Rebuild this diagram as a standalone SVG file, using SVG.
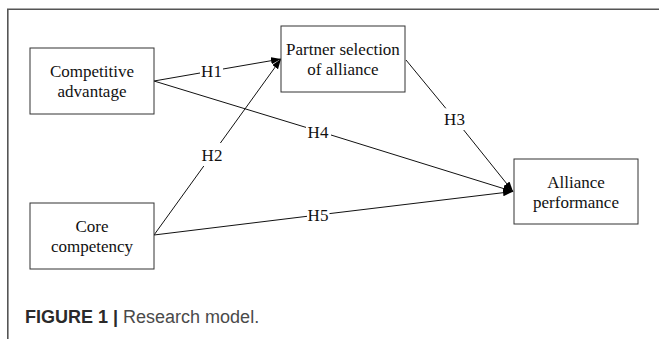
<svg xmlns="http://www.w3.org/2000/svg" width="659" height="339" viewBox="0 0 659 339">
  <defs>
    <marker id="arrow" markerUnits="userSpaceOnUse" markerWidth="11" markerHeight="8" refX="10" refY="3.5" orient="auto">
      <path d="M0,0 L10,3.5 L0,7 z" fill="#000"/>
    </marker>
    <style>
      .box { fill: #fff; stroke: #333; stroke-width: 1; }
      .lbl { font-family: "Liberation Serif", "Times New Roman", serif; font-size: 17px; fill: #111; text-anchor: middle; }
      .conn line { stroke: #111; stroke-width: 1; fill: none; }
      .frame { stroke: #555; stroke-width: 1.6; fill: none; }
      .cap { font-family: "Liberation Sans", Arial, sans-serif; font-size: 18px; }
    </style>
  </defs>
  <rect width="659" height="339" fill="#fff"/>
  <path class="frame" d="M7.8,339 V9.3 H659"/>

  <g id="connectors" class="conn">
    <!-- H1 -->
    <line x1="154" y1="81" x2="200" y2="73"/>
    <line x1="223" y1="69" x2="281" y2="59" marker-end="url(#arrow)"/>
    <!-- H2 -->
    <line x1="154" y1="235" x2="203.8" y2="166"/>
    <line x1="220.4" y1="143" x2="281" y2="59" marker-end="url(#arrow)"/>
    <!-- H3 -->
    <line x1="406" y1="60" x2="445.8" y2="108.3"/>
    <line x1="463.7" y1="130" x2="513" y2="191.5" marker-end="url(#arrow)"/>
    <!-- H4 -->
    <line x1="154" y1="81" x2="306" y2="127.4"/>
    <line x1="331" y1="135" x2="513" y2="191.5" marker-end="url(#arrow)"/>
    <!-- H5 -->
    <line x1="154" y1="235" x2="307" y2="216.3"/>
    <line x1="329.5" y1="213.6" x2="513" y2="191.5" marker-end="url(#arrow)"/>
  </g>

  <g id="edge-labels">
    <text class="lbl" x="211.5" y="76.5">H1</text>
    <text class="lbl" x="212" y="160.5">H2</text>
    <text class="lbl" x="454.5" y="125">H3</text>
    <text class="lbl" x="318" y="138">H4</text>
    <text class="lbl" x="318" y="220.7">H5</text>
  </g>

  <g id="node-competitive-advantage">
    <rect class="box" x="30" y="48" width="124" height="66"/>
    <text class="lbl" x="92" y="77">Competitive</text>
    <text class="lbl" x="92" y="97">advantage</text>
  </g>

  <g id="node-partner-selection">
    <rect class="box" x="281" y="26" width="124" height="66"/>
    <text class="lbl" x="343" y="55">Partner selection</text>
    <text class="lbl" x="343" y="75">of alliance</text>
  </g>

  <g id="node-core-competency">
    <rect class="box" x="30" y="203" width="124" height="66"/>
    <text class="lbl" x="92" y="232">Core</text>
    <text class="lbl" x="92" y="252">competency</text>
  </g>

  <g id="node-alliance-performance">
    <rect class="box" x="514" y="159" width="124" height="65"/>
    <text class="lbl" x="576" y="187.5">Alliance</text>
    <text class="lbl" x="576" y="207.5">performance</text>
  </g>

  <text class="cap" x="25" y="323"><tspan font-weight="bold" fill="#2a2a2a">FIGURE 1 | </tspan><tspan fill="#4a4a4a">Research model.</tspan></text>
</svg>
